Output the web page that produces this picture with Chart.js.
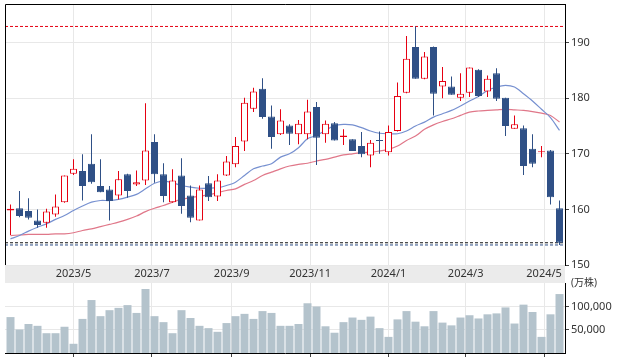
<!DOCTYPE html>
<html>
<head>
<meta charset="utf-8">
<script src="https://cdn.jsdelivr.net/npm/chart.js@4.4.1/dist/chart.umd.min.js"></script>
<style>
  html, body { margin: 0; padding: 0; background: #fff; }
  #wrap { position: relative; width: 617px; height: 362px; }
  #priceChart { position: absolute; left: 0; top: 0; }
  #volChart { position: absolute; left: 0; top: 270px; }
</style>
</head>
<body>
<div id="wrap">
  <canvas id="priceChart" width="617" height="283"></canvas>
  <canvas id="volChart" width="617" height="92"></canvas>
</div>
<script>
// weekly candles, first week starts on this monday
const startDate = '2023-03-13';
const monthLabels = ['2023/5', '2023/7', '2023/9', '2023/11', '2024/1', '2024/3', '2024/5'];

const opens  = [159.8, 160.2, 159.7, 158.0, 157.6, 159.1, 161.3, 166.4, 166.9, 168.2,
                164.2, 163.6, 162.5, 166.3, 164.5, 165.2, 172.1, 166.3, 161.3, 166.1,
                162.5, 158.0, 164.7, 162.3, 166.1, 168.1, 172.2, 178.1, 181.7, 176.7,
                173.5, 175.1, 173.5, 173.5, 178.4, 173.5, 175.5, 173.0, 172.6, 171.4,
                169.7, 172.4, 170.3, 174.1, 181.0, 189.2, 183.5, 189.2, 182.1, 182.1,
                180.1, 181.0, 185.1, 181.2, 184.5, 180.1, 174.5, 174.6, 170.9, 170.3,
                170.6, 160.2];
const highs  = [160.9, 163.3, 162.0, 160.0, 160.1, 162.7, 166.1, 169.0, 169.9, 173.5,
                169.0, 164.2, 166.9, 166.4, 167.0, 179.1, 173.5, 168.3, 167.2, 169.2,
                164.3, 164.3, 166.0, 166.3, 169.6, 173.0, 180.1, 181.9, 183.6, 178.7,
                178.0, 175.3, 176.1, 179.7, 179.3, 176.0, 175.7, 174.4, 172.6, 173.9,
                172.5, 174.0, 175.1, 182.8, 191.2, 192.9, 188.3, 189.3, 185.6, 183.9,
                184.5, 185.5, 185.2, 184.1, 185.4, 180.1, 176.9, 175.1, 173.5, 171.4,
                170.7, 161.6];
const lows   = [155.4, 158.6, 158.2, 156.7, 156.7, 158.7, 161.2, 166.2, 161.6, 164.6,
                163.1, 158.0, 161.8, 162.1, 164.2, 164.4, 164.8, 161.3, 161.2, 159.2,
                157.7, 158.0, 161.5, 161.5, 166.0, 167.6, 170.5, 177.5, 176.3, 170.9,
                173.4, 171.6, 171.7, 172.6, 168.0, 172.0, 172.4, 171.6, 170.5, 169.4,
                167.6, 170.0, 169.7, 174.0, 180.9, 183.5, 183.4, 176.9, 180.0, 180.6,
                179.5, 180.2, 180.2, 180.2, 179.5, 173.2, 174.5, 166.2, 167.6, 169.4,
                160.9, 153.6];
const closes = [160.1, 158.8, 158.5, 157.2, 159.6, 160.5, 166.1, 167.3, 164.2, 164.9,
                163.1, 161.5, 165.4, 163.3, 164.9, 170.6, 166.3, 162.4, 165.2, 160.6,
                158.5, 163.6, 162.2, 165.2, 168.6, 171.4, 179.2, 181.2, 176.6, 173.0,
                176.0, 173.6, 175.4, 177.6, 172.9, 175.4, 172.4, 173.3, 170.5, 169.9,
                172.0, 172.3, 173.9, 180.4, 187.1, 183.5, 187.5, 180.8, 183.1, 180.6,
                180.8, 185.5, 180.4, 183.5, 179.9, 175.0, 175.3, 167.8, 168.2, 170.4,
                162.2, 154.0];
// 13-week and 26-week moving averages
const ma13 = [154.7, 155.3, 156.1, 156.8, 157.4, 158.2, 158.9, 159.8, 160.6, 161.3,
              161.6, 161.6, 161.8, 162.2, 162.7, 163.7, 164.7, 165.1, 164.8, 164.3,
              164.0, 163.8, 163.8, 163.9, 164.3, 164.9, 166.1, 167.3, 167.8, 168.2,
              169.4, 170.0, 171.1, 172.7, 173.3, 174.2, 175.1, 175.3, 175.2, 174.7,
              174.1, 173.7, 173.6, 173.6, 174.1, 175.0, 175.7, 176.6, 177.2, 177.8,
              178.6, 179.5, 180.3, 181.4, 182.0, 182.3, 182.0, 180.8, 179.5, 178.0,
              176.5, 174.2];
const ma26 = [155.3, 155.4, 155.5, 155.5, 155.5, 155.6, 155.6, 155.8, 156.2, 156.5,
              156.9, 157.3, 157.7, 158.2, 158.8, 159.6, 160.2, 160.7, 161.3, 161.8,
              162.1, 162.4, 162.6, 163.0, 163.4, 163.7, 164.5, 165.2, 166.1, 166.7,
              167.3, 167.8, 168.1, 168.3, 168.7, 169.0, 169.4, 169.8, 170.0, 170.2,
              170.3, 170.5, 170.8, 171.4, 172.4, 173.2, 174.4, 175.2, 175.8, 176.3,
              176.9, 177.5, 177.7, 177.8, 177.9, 178.0, 177.9, 177.8, 177.6, 177.3,
              176.9, 175.7];
const volumes = [78000, 51000, 63000, 59000, 43000, 43000, 57000, 20000, 74000, 115000,
                 80000, 93000, 98000, 104000, 87000, 139000, 80000, 67000, 43000, 93000,
                 76000, 59000, 54000, 46000, 65000, 80000, 85000, 74000, 91000, 87000,
                 59000, 59000, 63000, 108000, 101000, 58000, 44000, 67000, 77000, 72000,
                 79000, 54000, 35000, 73000, 91000, 68000, 58000, 91000, 66000, 60000,
                 77000, 82000, 75000, 84000, 86000, 99000, 64000, 105000, 89000, 35000,
                 84000, 128000];

const RED = '#e60012';
const BLUE = '#2f5086';
const GRID = '#e8e8e8';
const font = { family: "'Noto Sans', 'Noto Sans CJK JP', sans-serif", size: 11 };

const WEEK = 7 * 86400000;
const t0 = Date.parse(startDate + 'T00:00:00Z');
const monthPos = monthLabels.map(s => {
  const [y, m] = s.split('/').map(Number);
  return (Date.UTC(y, m - 1, 1) - t0) / WEEK;
});

const idx = opens.map((_, i) => i);
const bull = idx.map(i => closes[i] >= opens[i]);
const xMin = -0.611, xMax = 61.611;

const hiMax = Math.max(...highs);
const loMin = Math.min(...lows);
const lastClose = closes[closes.length - 1];
const hLine = v => [{ x: xMin, y: v }, { x: xMax, y: v }];

const monthTickHook = s => { s.ticks = monthPos.map(v => ({ value: v })); };
// keep the plot area exactly where the layout padding puts it
const fitX = h => s => { s.height = h; s.paddingLeft = 0; s.paddingRight = 0; };
const fitY = s => { s.width = 52; s.paddingTop = 0; s.paddingBottom = 0; };

const bandPlugin = {
  id: 'band',
  beforeDraw(chart) {
    const { ctx, chartArea: a } = chart;
    ctx.save();
    ctx.fillStyle = '#ebebeb';
    ctx.fillRect(a.left, a.bottom, a.right - a.left, 18);
    ctx.restore();
  },
  afterDraw(chart) {
    const { ctx, chartArea: a } = chart;
    ctx.save();
    ctx.strokeStyle = '#000';
    ctx.lineWidth = 1;
    ctx.beginPath();
    ctx.moveTo(a.left + 0.5, a.bottom);
    ctx.lineTo(a.left + 0.5, a.top + 0.5);
    ctx.lineTo(a.right, a.top + 0.5);
    ctx.stroke();
    ctx.restore();
  }
};

new Chart(document.getElementById('priceChart'), {
  type: 'bar',
  data: {
    datasets: [
      {
        label: 'body',
        data: idx.map(i => ({ x: i, y: [opens[i], closes[i]] })),
        backgroundColor: idx.map(i => bull[i] ? '#fff' : BLUE),
        borderColor: idx.map(i => bull[i] ? RED : BLUE),
        borderWidth: 1,
        borderSkipped: false,
        barThickness: 7,
        minBarLength: 1,
        grouped: false,
        inflateAmount: 0,
        order: 0
      },
      {
        label: 'wick',
        data: idx.map(i => ({ x: i, y: [lows[i], highs[i]] })),
        backgroundColor: idx.map(i => bull[i] ? RED : BLUE),
        barThickness: 1,
        grouped: false,
        inflateAmount: 0,
        order: 1
      },
      {
        type: 'line', label: '13週',
        data: idx.map(i => ({ x: i, y: ma13[i] })),
        borderColor: '#7690d0', borderWidth: 1.2, pointRadius: 0, tension: 0.3, order: 2
      },
      {
        type: 'line', label: '26週',
        data: idx.map(i => ({ x: i, y: ma26[i] })),
        borderColor: '#e07789', borderWidth: 1.2, pointRadius: 0, tension: 0.3, order: 2
      },
      {
        type: 'line', label: 'high', data: hLine(hiMax),
        borderColor: RED, borderWidth: 1, borderDash: [3, 2], pointRadius: 0, order: 3
      },
      {
        type: 'line', label: 'close', data: hLine(lastClose),
        borderColor: '#111', borderWidth: 1, borderDash: [3, 2], pointRadius: 0, order: 3
      },
      {
        type: 'line', label: 'low', data: hLine(loMin),
        borderColor: '#2f5086', borderWidth: 1, borderDash: [3, 2], pointRadius: 0, order: 3
      }
    ]
  },
  options: {
    responsive: false,
    animation: false,
    layout: { padding: { left: 5, top: 4, right: 0, bottom: 0 } },
    plugins: { legend: { display: false }, tooltip: { enabled: false } },
    scales: {
      x: {
        type: 'linear', min: xMin, max: xMax, offset: false,
        afterBuildTicks: monthTickHook,
        afterFit: fitX(18),
        border: { display: false },
        grid: { color: GRID, drawTicks: false, offset: false },
        ticks: {
          autoSkip: false, maxRotation: 0, color: '#333', font, padding: 2,
          callback: (v, i) => monthLabels[i]
        }
      },
      y: {
        position: 'right', min: 150, max: 196.94,
        afterFit: fitY,
        border: { display: true, color: '#000' },
        grid: { color: GRID, tickColor: '#444', tickLength: 4 },
        ticks: { stepSize: 10, includeBounds: false, padding: 2, color: '#333', font }
      }
    }
  },
  plugins: [bandPlugin]
});

const volMax = 152000;
new Chart(document.getElementById('volChart'), {
  type: 'bar',
  data: {
    datasets: [{
      label: '出来高',
      data: idx.map(i => ({ x: i, y: volumes[i] })),
      backgroundColor: '#b4c3cc',
      barThickness: 8,
      inflateAmount: 0
    }]
  },
  options: {
    responsive: false,
    animation: false,
    layout: { padding: { left: 5, top: 13, right: 0, bottom: 0 } },
    plugins: { legend: { display: false }, tooltip: { enabled: false } },
    scales: {
      x: {
        type: 'linear', min: xMin, max: xMax, offset: false,
        afterBuildTicks: monthTickHook,
        afterFit: fitX(9),
        border: { display: true, color: '#000' },
        grid: { color: GRID, tickColor: '#444', tickLength: 4, offset: false },
        ticks: { display: false }
      },
      y: {
        position: 'right', min: 0, max: volMax,
        afterBuildTicks: s => { s.ticks = [50000, 100000, volMax].map(v => ({ value: v })); },
        afterFit: fitY,
        border: { display: true, color: '#000' },
        grid: {
          color: c => c.tick && c.tick.value === volMax ? 'rgba(0,0,0,0)' : GRID,
          tickColor: c => c.tick && c.tick.value === volMax ? 'rgba(0,0,0,0)' : '#444',
          tickLength: 4
        },
        ticks: {
          padding: 2, color: '#333',
          font: c => c.tick && c.tick.value === volMax ? { ...font, size: 10 } : font,
          callback: v => v === volMax ? '(万株)' : v.toLocaleString('en-US')
        }
      }
    }
  }
});
</script>
</body>
</html>
